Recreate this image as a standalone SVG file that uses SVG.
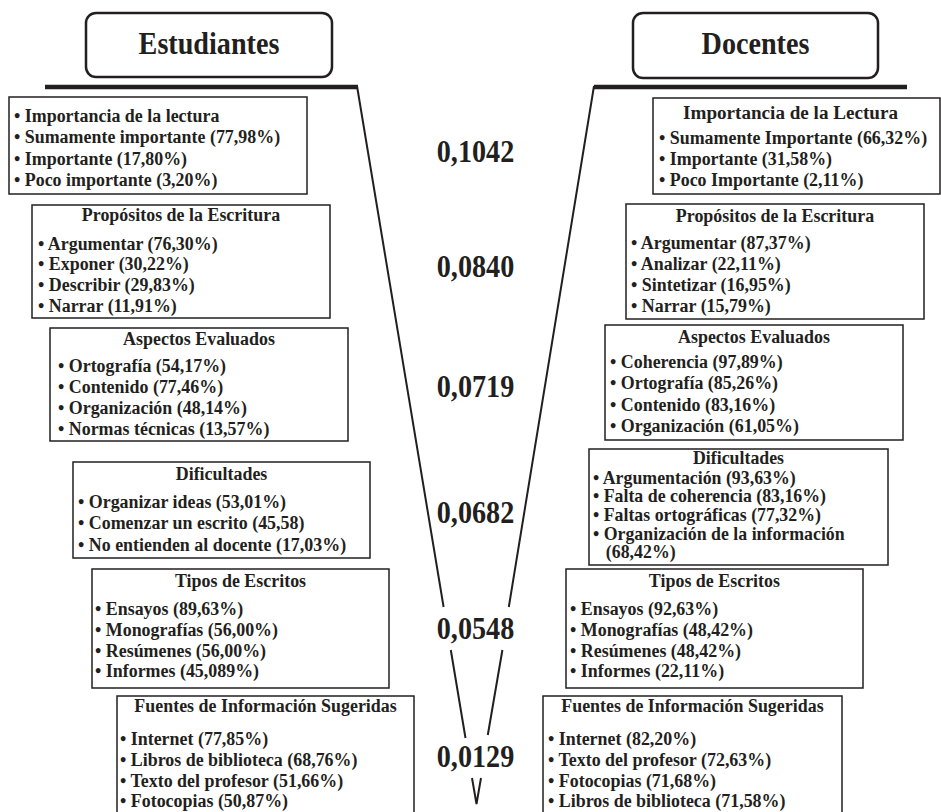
<svg xmlns="http://www.w3.org/2000/svg" width="941" height="812" viewBox="0 0 941 812">
<style>
.t{font-family:"Liberation Serif","Times New Roman",serif;font-weight:bold;fill:#231f20;font-size:19.5px}
.s{font-size:18px}
.h{font-size:32px}
.c{text-anchor:middle}
.box{fill:#fff;stroke:#231f20;stroke-width:1.5}
.hdr{fill:#fff;stroke:#231f20;stroke-width:2.5}
.bar{stroke:#231f20;stroke-width:4.5;fill:none}
.fl{stroke:#231f20;stroke-width:2;fill:none}
</style>
<rect width="941" height="812" fill="#fff"/>
<g id="connectors">
<path class="bar" d="M45,87 H358"/>
<path class="bar" d="M594,87 H907"/>
<path class="fl" d="M357,86 L443.6,607 M450.8,650 L465.5,738 M472,778 L476.5,804 L481,778 M487.8,735 L502.4,650 M508.8,607 L594,86"/>
</g>
<g id="hdr-estudiantes">
<rect class="hdr" x="86" y="13" width="246" height="64" rx="10"/>
<text class="t h c" transform="translate(209,54) scale(.88 1)">Estudiantes</text>
</g>
<g id="hdr-docentes">
<rect class="hdr" x="633" y="13" width="245" height="65" rx="10"/>
<text class="t h c" transform="translate(755.5,54) scale(.88 1)">Docentes</text>
</g>
<g id="values">
<text class="t h c" transform="translate(475.5,162) scale(.88 1)">0,1042</text>
<text class="t h c" transform="translate(475.5,277) scale(.88 1)">0,0840</text>
<text class="t h c" transform="translate(475.5,397) scale(.88 1)">0,0719</text>
<text class="t h c" transform="translate(475.5,523) scale(.88 1)">0,0682</text>
<text class="t h c" transform="translate(475.5,639) scale(.88 1)">0,0548</text>
<text class="t h c" transform="translate(475.5,767) scale(.88 1)">0,0129</text>
</g>
<g id="est-importancia">
<rect class="box" x="9" y="97" width="298" height="97"/>
<g transform="translate(14,0) scale(.92 1)">
<text class="t" x="0" y="122">• Importancia de la lectura</text>
<text class="t" x="0" y="143.5">• Sumamente importante (77,98%)</text>
<text class="t" x="0" y="165">• Importante (17,80%)</text>
<text class="t" x="0" y="186.5">• Poco importante (3,20%)</text>
</g>
</g>
<g id="est-propositos">
<rect class="box" x="32" y="205" width="298" height="113"/>
<g transform="translate(38,0) scale(.92 1)">
<text class="t c" x="155.4" y="221">Propósitos de la Escritura</text>
<text class="t" x="0" y="250">• Argumentar (76,30%)</text>
<text class="t" x="0" y="270.5">• Exponer (30,22%)</text>
<text class="t" x="0" y="291">• Describir (29,83%)</text>
<text class="t" x="0" y="312">• Narrar (11,91%)</text>
</g>
</g>
<g id="est-aspectos">
<rect class="box" x="50" y="328" width="298" height="113"/>
<g transform="translate(58,0) scale(.92 1)">
<text class="t c" x="153.3" y="345">Aspectos Evaluados</text>
<text class="t" x="0" y="372">• Ortografía (54,17%)</text>
<text class="t" x="0" y="393">• Contenido (77,46%)</text>
<text class="t" x="0" y="414">• Organización (48,14%)</text>
<text class="t" x="0" y="435">• Normas técnicas (13,57%)</text>
</g>
</g>
<g id="est-dificultades">
<rect class="box" x="73" y="462" width="297" height="96"/>
<g transform="translate(78,0) scale(.92 1)">
<text class="t c" x="156" y="480">Dificultades</text>
<text class="t" x="0" y="508">• Organizar ideas (53,01%)</text>
<text class="t" x="0" y="529.5">• Comenzar un escrito (45,58)</text>
<text class="t" x="0" y="551">• No entienden al docente (17,03%)</text>
</g>
</g>
<g id="est-tipos">
<rect class="box" x="92" y="569" width="297" height="119"/>
<g transform="translate(95,0) scale(.92 1)">
<text class="t c" x="158.2" y="587">Tipos de Escritos</text>
<text class="t" x="0" y="615">• Ensayos (89,63%)</text>
<text class="t" x="0" y="636">• Monografías (56,00%)</text>
<text class="t" x="0" y="657">• Resúmenes (56,00%)</text>
<text class="t" x="0" y="677.5">• Informes (45,089%)</text>
</g>
</g>
<g id="est-fuentes">
<rect class="box" x="117" y="696" width="297" height="130"/>
<g transform="translate(120,0) scale(.92 1)">
<text class="t c" x="158.2" y="712">Fuentes de Información Sugeridas</text>
<text class="t" x="0" y="745">• Internet (77,85%)</text>
<text class="t" x="0" y="766">• Libros de biblioteca (68,76%)</text>
<text class="t" x="0" y="787">• Texto del profesor (51,66%)</text>
<text class="t" x="0" y="807">• Fotocopias (50,87%)</text>
</g>
</g>
<g id="doc-importancia">
<rect class="box" x="653" y="98" width="287" height="96"/>
<text class="t c" transform="translate(790.5,119) scale(.98 1)">Importancia de la Lectura</text>
<g transform="translate(659,0) scale(.92 1)">
<text class="t" x="0" y="144">• Sumamente Importante (66,32%)</text>
<text class="t" x="0" y="165">• Importante (31,58%)</text>
<text class="t" x="0" y="186">• Poco Importante (2,11%)</text>
</g>
</g>
<g id="doc-propositos">
<rect class="box" x="626" y="204" width="298" height="115"/>
<g transform="translate(631,0) scale(.92 1)">
<text class="t c" x="156.5" y="222">Propósitos de la Escritura</text>
<text class="t" x="0" y="249">• Argumentar (87,37%)</text>
<text class="t" x="0" y="270">• Analizar (22,11%)</text>
<text class="t" x="0" y="291.5">• Sintetizar (16,95%)</text>
<text class="t" x="0" y="312">• Narrar (15,79%)</text>
</g>
</g>
<g id="doc-aspectos">
<rect class="box" x="605" y="325" width="298" height="115"/>
<g transform="translate(610,0) scale(.92 1)">
<text class="t c" x="156.5" y="343">Aspectos Evaluados</text>
<text class="t" x="0" y="368">• Coherencia (97,89%)</text>
<text class="t" x="0" y="389">• Ortografía (85,26%)</text>
<text class="t" x="0" y="411">• Contenido (83,16%)</text>
<text class="t" x="0" y="432">• Organización (61,05%)</text>
</g>
</g>
<g id="doc-dificultades">
<rect class="box" x="589" y="449" width="299" height="116"/>
<g transform="translate(593,0) scale(.99 1)">
<text class="t s c" x="147" y="464">Dificultades</text>
<text class="t s" x="0" y="484">• Argumentación (93,63%)</text>
<text class="t s" x="0" y="502.5">• Falta de coherencia (83,16%)</text>
<text class="t s" x="0" y="521">• Faltas ortográficas (77,32%)</text>
<text class="t s" x="0" y="540">• Organización de la información</text>
<text class="t s" x="13" y="558.5">(68,42%)</text>
</g>
</g>
<g id="doc-tipos">
<rect class="box" x="566" y="569" width="297" height="119"/>
<g transform="translate(570,0) scale(.92 1)">
<text class="t c" x="157" y="587">Tipos de Escritos</text>
<text class="t" x="0" y="615">• Ensayos (92,63%)</text>
<text class="t" x="0" y="636">• Monografías (48,42%)</text>
<text class="t" x="0" y="657">• Resúmenes (48,42%)</text>
<text class="t" x="0" y="677.5">• Informes (22,11%)</text>
</g>
</g>
<g id="doc-fuentes">
<rect class="box" x="543" y="696" width="299" height="130"/>
<g transform="translate(548,0) scale(.92 1)">
<text class="t c" x="157" y="712">Fuentes de Información Sugeridas</text>
<text class="t" x="0" y="745">• Internet (82,20%)</text>
<text class="t" x="0" y="766.5">• Texto del profesor (72,63%)</text>
<text class="t" x="0" y="787">• Fotocopias (71,68%)</text>
<text class="t" x="0" y="807">• Libros de biblioteca (71,58%)</text>
</g>
</g>
</svg>
